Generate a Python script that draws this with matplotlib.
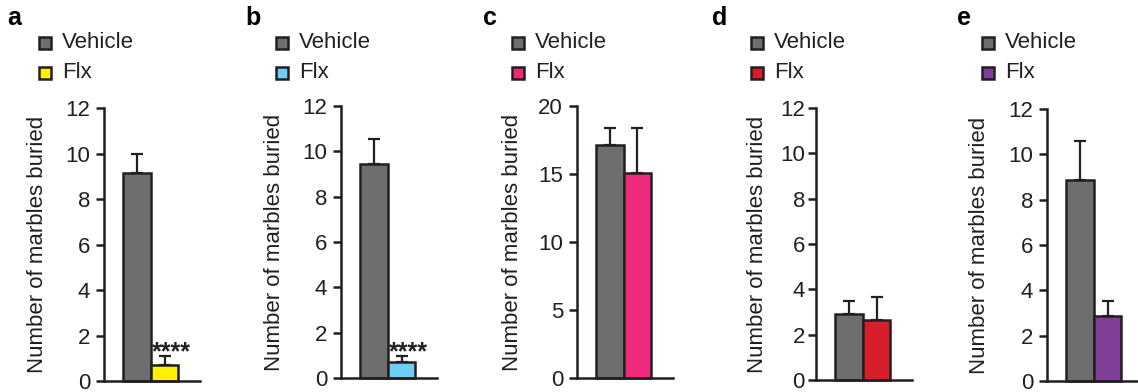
import numpy as np
import matplotlib
matplotlib.use("Agg")
import matplotlib.pyplot as plt

plt.rcParams["font.family"] = ["Liberation Sans", "DejaVu Sans"]

# --------------------------------------------
# DATA
# --------------------------------------------
panels = ["a", "b", "c", "d", "e"]
groups = ["Vehicle", "Flx"]
vehicle_mean = [9.15, 9.45, 17.1, 2.9, 8.85]
vehicle_sem = [0.85, 1.1, 1.3, 0.6, 1.72]
flx_mean = [0.7, 0.7, 15.1, 2.65, 2.88]
flx_sem = [0.4, 0.25, 3.3, 1.0, 0.66]
y_max = [12, 12, 20, 12, 12]
y_step = [2, 2, 5, 2, 2]
stars = ["****", "****", "", "", ""]

vehicle_color = "#6d6e70"
flx_colors = ["#fff200", "#6dcff6", "#ee2a7b", "#d71f2b", "#7f3f98"]
edge = "#231f20"

# --------------------------------------------
# LAYOUT (pixels)
# --------------------------------------------
W, H = 1138, 392
axis_x = [104, 341, 577, 816, 1047]
axis_bottom = [381, 378, 378, 380, 381]
axis_top = [108, 106, 106, 108, 109]
letter_x = [7, 245, 483, 712, 957]
label_off = [-56, -56, -54, -48, -57]
bar_px = 27.5
x_lo, x_hi = -1.2, 2.3

fig = plt.figure(figsize=(W / 100, H / 100), dpi=100)

for i, p in enumerate(panels):
    ax_w = (x_hi - x_lo) * bar_px
    left = axis_x[i] / W
    bottom = (H - axis_bottom[i]) / H
    height = (axis_bottom[i] - axis_top[i]) / H
    ax = fig.add_axes([left, bottom, ax_w / W, height])

    means = [vehicle_mean[i], flx_mean[i]]
    sems = [vehicle_sem[i], flx_sem[i]]
    colors = [vehicle_color, flx_colors[i]]
    pos = np.arange(len(groups))

    ax.errorbar(pos, means, yerr=[[0, 0], sems], fmt="none",
                ecolor=edge, elinewidth=1.6, capsize=4, capthick=1.6,
                zorder=1, clip_on=False)
    ax.bar(pos, means, width=1.0, color=colors, edgecolor=edge,
           linewidth=1.8, zorder=2, clip_on=False)

    if stars[i]:
        ax.text(1.25, flx_mean[i] + flx_sem[i] - 0.13, stars[i],
                ha="center", va="baseline", fontsize=18, fontweight="bold",
                color=edge)

    ax.set_xlim(x_lo, x_hi)
    ax.set_ylim(0, y_max[i])
    ax.set_yticks(np.arange(0, y_max[i] + 1, y_step[i]))
    ax.set_xticks([])
    for s in ["top", "right"]:
        ax.spines[s].set_visible(False)
    for s in ["left", "bottom"]:
        ax.spines[s].set_linewidth(1.8)
        ax.spines[s].set_color(edge)
    ax.tick_params(axis="y", direction="out", length=6, width=1.8,
                   colors=edge, labelsize=16, pad=2 if p == "d" else 4)
    ax.set_ylabel("Number of marbles buried", fontsize=16, color=edge)
    ax.yaxis.set_label_coords(label_off[i] / ax_w, 0.5)

    # legend drawn by hand
    mx = (axis_x[i] - 59) / W
    tx = (axis_x[i] - 42) / W
    for j, (g, c) in enumerate(zip(groups, colors)):
        yy = (H - (43 + 30 * j)) / H
        fig.add_artist(plt.Line2D([mx], [yy], marker="s", markersize=9,
                                  markerfacecolor=c, markeredgecolor=edge,
                                  markeredgewidth=1.8, linestyle="none",
                                  transform=fig.transFigure))
        fig.text(tx, yy, g, fontsize=16, va="center", ha="left", color=edge)

    fig.text(letter_x[i] / W, (H - 18) / H, p, fontsize=18,
             fontweight="bold", va="center", ha="left")

fig.savefig("out.png", dpi=100)
